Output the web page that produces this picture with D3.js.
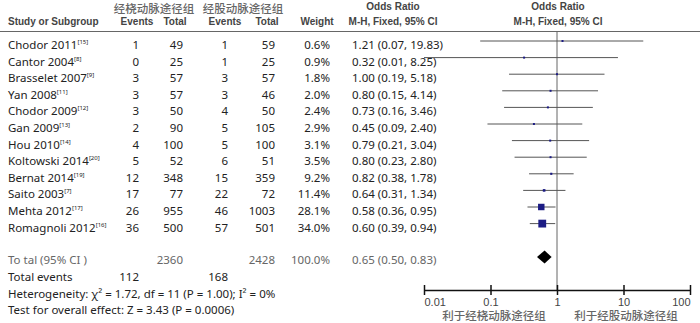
<!DOCTYPE html>
<html>
<head>
<meta charset="utf-8">
<script src="https://cdn.jsdelivr.net/npm/d3@7"></script>
<style>
  body { margin: 0; background: #fff; }
  svg { display: block; }
  .hd { font-family: "Liberation Sans", Arial, sans-serif; font-weight: bold; font-size: 10px; fill: #444; }
  .cn { font-family: "Noto Sans CJK SC", sans-serif; font-size: 11.5px; fill: #666; font-weight: 500; }
  .row { font-family: "Noto Sans", "Open Sans", sans-serif; font-size: 11.5px; fill: #222; }
  .tot { fill: #666; }
  .tick text { font-family: "Liberation Sans", Arial, sans-serif; font-size: 11px; fill: #444; }
</style>
</head>
<body>
<div id="chart"></div>
<script>
const studies = ['Chodor 2011', 'Cantor 2004', 'Brasselet 2007', 'Yan 2008', 'Chodor 2009', 'Gan 2009',
  'Hou 2010', 'Koltowski 2014', 'Bernat 2014', 'Saito 2003', 'Mehta 2012', 'Romagnoli 2012'];
const refs = ['15', '8', '9', '11', '12', '13', '14', '20', '19', '7', '17', '16'];
const radialEvents = [1, 0, 3, 3, 3, 2, 4, 5, 12, 17, 26, 36];
const radialTotal = [49, 25, 57, 57, 50, 90, 100, 52, 348, 77, 955, 500];
const femoralEvents = [1, 1, 3, 3, 4, 5, 5, 6, 15, 22, 46, 57];
const femoralTotal = [59, 25, 57, 46, 50, 105, 100, 51, 359, 72, 1003, 501];
const weights = [0.6, 0.9, 1.8, 2.0, 2.4, 2.9, 3.1, 3.5, 9.2, 11.4, 28.1, 34.0];
const orEst = [1.21, 0.32, 1.00, 0.80, 0.73, 0.45, 0.79, 0.80, 0.82, 0.64, 0.58, 0.60];
const orLow = [0.07, 0.01, 0.19, 0.15, 0.16, 0.09, 0.21, 0.23, 0.38, 0.31, 0.36, 0.39];
const orHigh = [19.83, 8.25, 5.18, 4.14, 3.46, 2.40, 3.04, 2.80, 1.78, 1.34, 0.95, 0.94];

const pooled = { est: 0.65, low: 0.50, high: 0.83, radialTotal: 2360, femoralTotal: 2428, weight: '100.0%' };
const totalEvents = [112, 168];
const axisTicks = [0.01, 0.1, 1, 10, 100];

const W = 700, H = 323;
const svg = d3.select('#chart').append('svg').attr('width', W).attr('height', H);
svg.append('rect').attr('width', W).attr('height', H).attr('fill', '#fff');

// column anchors
const col = { study: 8, ev1: 139, tot1: 183, ev2: 228, tot2: 275, wt: 330, or: 352 };

// headers
svg.append('text').attr('class', 'cn').attr('x', 154).attr('y', 13).attr('text-anchor', 'middle').text('经桡动脉途径组');
svg.append('text').attr('class', 'cn').attr('x', 243).attr('y', 13).attr('text-anchor', 'middle').text('经股动脉途径组');
const hdr = [['Study or Subgroup', 8, 'start'], ['Events', 137, 'middle'], ['Total', 175, 'middle'],
  ['Events', 225, 'middle'], ['Total', 267, 'middle'], ['Weight', 317, 'middle'], ['M-H, Fixed, 95% CI', 393, 'middle'],
  ['M-H, Fixed, 95% CI', 558, 'middle']];
hdr.forEach(([t, x, a]) => {
  svg.append('text').attr('class', 'hd').attr('x', x).attr('y', 25).attr('text-anchor', a).text(t);
});
svg.append('text').attr('class', 'hd').attr('x', 393).attr('y', 10).attr('text-anchor', 'middle').text('Odds Ratio');
svg.append('text').attr('class', 'hd').attr('x', 558).attr('y', 10).attr('text-anchor', 'middle').text('Odds Ratio');

svg.append('line').attr('x1', 0).attr('x2', W).attr('y1', 31.5).attr('y2', 31.5)
  .attr('stroke', '#666').attr('stroke-width', 1.2);

// rows
const y = d3.scalePoint().domain(studies).range([45, 227.6]);
const x = d3.scaleLog().domain([0.01, 100]).range([424, 690]);
const axisY = 290;

const fmt = d3.format('.2f');
studies.forEach((s, i) => {
  const ty = y(s) + 4;
  const name = svg.append('text').attr('class', 'row').attr('x', col.study).attr('y', ty);
  name.append('tspan').text(s);
  name.append('tspan').attr('dy', -5).attr('font-size', '6px').text(`[${refs[i]}]`);
  [[radialEvents[i], col.ev1], [radialTotal[i], col.tot1], [femoralEvents[i], col.ev2],
    [femoralTotal[i], col.tot2], [weights[i].toFixed(1) + '%', col.wt]].forEach(([v, cx]) => {
    svg.append('text').attr('class', 'row').attr('x', cx).attr('y', ty).attr('text-anchor', 'end').text(v);
  });
  svg.append('text').attr('class', 'row').attr('x', col.or).attr('y', ty)
    .text(`${fmt(orEst[i])} (${fmt(orLow[i])}, ${fmt(orHigh[i])})`);
});

// totals
const totY = 264;
svg.append('text').attr('class', 'row tot').attr('x', col.study).attr('y', totY).text('To tal (95% CI )');
svg.append('text').attr('class', 'row tot').attr('x', col.tot1).attr('y', totY).attr('text-anchor', 'end').text(pooled.radialTotal);
svg.append('text').attr('class', 'row tot').attr('x', col.tot2).attr('y', totY).attr('text-anchor', 'end').text(pooled.femoralTotal);
svg.append('text').attr('class', 'row tot').attr('x', col.wt).attr('y', totY).attr('text-anchor', 'end').text(pooled.weight);
svg.append('text').attr('class', 'row tot').attr('x', col.or).attr('y', totY)
  .text(`${fmt(pooled.est)} (${fmt(pooled.low)}, ${fmt(pooled.high)})`);

svg.append('text').attr('class', 'row').attr('x', col.study).attr('y', 281).text('Total events');
svg.append('text').attr('class', 'row').attr('x', col.ev1).attr('y', 281).attr('text-anchor', 'end').text(totalEvents[0]);
svg.append('text').attr('class', 'row').attr('x', col.ev2).attr('y', 281).attr('text-anchor', 'end').text(totalEvents[1]);
svg.append('text').attr('class', 'row').attr('x', col.study).attr('y', 298).text('Heterogeneity: χ² = 1.72, df = 11 (P = 1.00); I² = 0%');
svg.append('text').attr('class', 'row').attr('x', col.study).attr('y', 314).text('Test for overall effect: Z = 3.43 (P = 0.0006)');

// forest plot
svg.append('line').attr('x1', x(1)).attr('x2', x(1)).attr('y1', 31.5).attr('y2', axisY)
  .attr('stroke', '#666').attr('stroke-width', 1);

const plot = svg.append('g');
plot.selectAll('line.ci').data(studies).enter().append('line')
  .attr('class', 'ci')
  .attr('x1', (d, i) => x(orLow[i])).attr('x2', (d, i) => x(orHigh[i]))
  .attr('y1', d => y(d) - 4).attr('y2', d => y(d) - 4)
  .attr('stroke', '#555').attr('stroke-width', 1);

const side = w => Math.max(2, w * 0.23);
plot.selectAll('rect.box').data(studies).enter().append('rect')
  .attr('class', 'box')
  .attr('x', (d, i) => x(orEst[i]) - side(weights[i]) / 2)
  .attr('y', (d, i) => y(d) - 4 - side(weights[i]) / 2)
  .attr('width', (d, i) => side(weights[i]))
  .attr('height', (d, i) => side(weights[i]))
  .attr('fill', '#1c1c84');

const dy = 257;
plot.append('path')
  .attr('d', `M${x(pooled.low)},${dy} L${x(pooled.est)},${dy - 6.5} L${x(pooled.high)},${dy} L${x(pooled.est)},${dy + 6.5} Z`)
  .attr('fill', '#000');

// axis
const axis = d3.axisBottom(x).tickValues(axisTicks).tickSize(5).tickSizeOuter(0).tickFormat(d3.format('~g'));
const ag = svg.append('g').attr('transform', `translate(0,${axisY})`).call(axis);
ag.select('.domain').attr('stroke', '#111').attr('stroke-width', 1.5);
ag.selectAll('.tick line').attr('y1', -5).attr('stroke', '#111').attr('stroke-width', 1.5);
ag.selectAll('.tick text').attr('y', 8)
  .attr('text-anchor', (d, i) => i === 0 ? 'start' : (i === axisTicks.length - 1 ? 'end' : 'middle'));

svg.append('text').attr('class', 'cn').attr('x', 494).attr('y', 320).attr('text-anchor', 'middle').text('利于经桡动脉途径组');
svg.append('text').attr('class', 'cn').attr('x', 626).attr('y', 320).attr('text-anchor', 'middle').text('利于经股动脉途径组');
</script>
</body>
</html>
